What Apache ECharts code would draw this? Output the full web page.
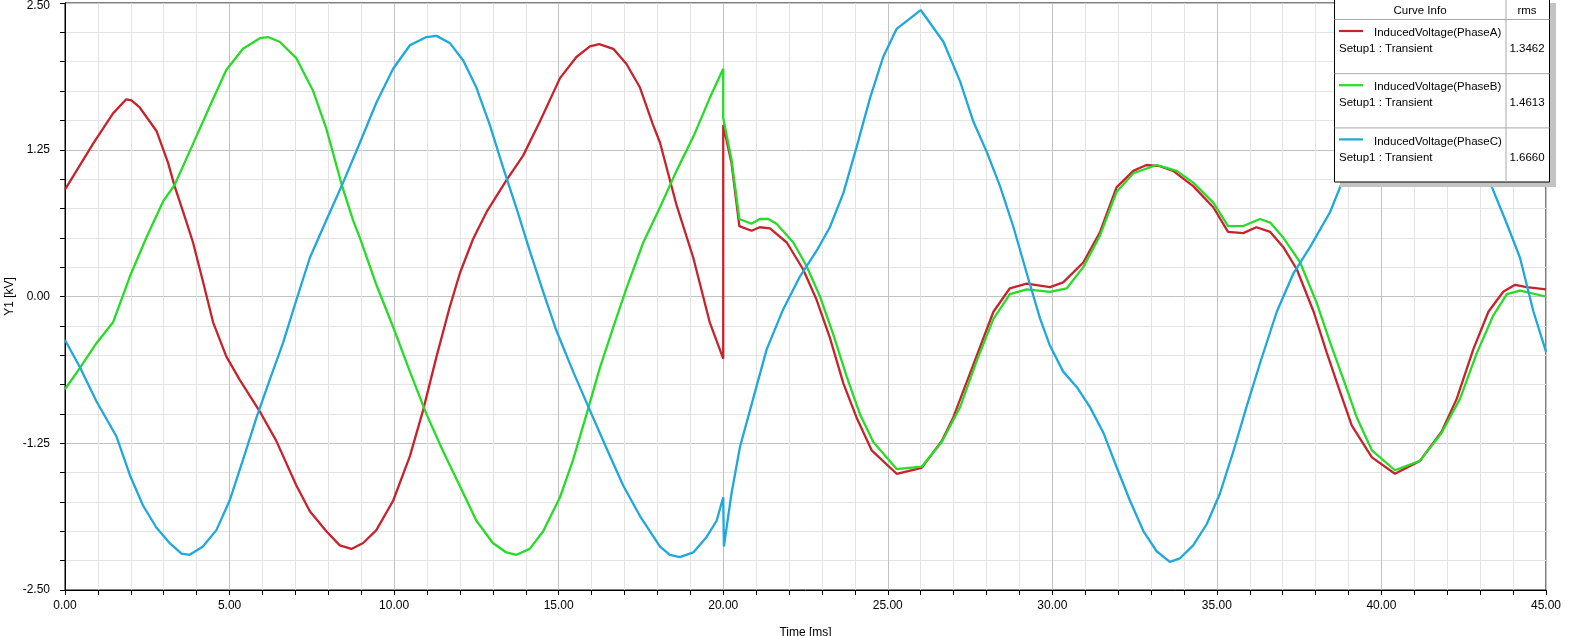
<!DOCTYPE html>
<html><head><meta charset="utf-8">
<script src="https://cdn.jsdelivr.net/npm/echarts@6/dist/echarts.min.js"></script>
<style>html,body{margin:0;padding:0;background:#fff;} #c{width:1569px;height:636px;}</style>
</head><body><div id="c"></div>
<script>
// ---- data (time in ms, voltage in kV) ----
const timeA = [0,0.85,1.46,1.86,2.02,2.27,2.78,3.13,3.33,3.59,3.89,4.19,4.5,4.9,5.31,5.92,6.42,7.03,7.44,7.94,8.35,8.7,9.06,9.46,9.97,10.48,10.88,11.29,11.69,12.0,12.4,12.81,13.41,13.92,14.43,15.04,15.54,15.95,16.23,16.66,17.06,17.47,17.87,18.08,18.58,19.09,19.59,20.0,20.0,20.25,20.49,20.86,21.11,21.42,21.93,22.43,22.84,23.24,23.65,24.05,24.51,25.27,26.03,26.64,26.99,27.6,28.21,28.71,29.22,29.93,30.33,30.94,31.45,31.95,32.46,32.86,33.27,33.67,34.28,34.89,35.34,35.8,36.2,36.62,37.02,37.43,37.94,38.34,38.74,39.1,39.71,40.41,41.17,41.83,42.29,42.79,43.25,43.7,44.06,44.41,45.0];
const voltA = [0.91,1.30,1.56,1.68,1.67,1.61,1.41,1.14,0.94,0.72,0.46,0.13,-0.22,-0.51,-0.71,-0.98,-1.23,-1.61,-1.83,-2.0,-2.12,-2.15,-2.10,-1.99,-1.74,-1.36,-0.97,-0.51,-0.09,0.2,0.49,0.72,0.99,1.2,1.49,1.86,2.04,2.13,2.15,2.11,1.98,1.78,1.46,1.31,0.78,0.33,-0.22,-0.53,1.46,1.14,0.60,0.56,0.59,0.58,0.46,0.23,-0.03,-0.35,-0.74,-1.03,-1.31,-1.51,-1.46,-1.23,-1.03,-0.58,-0.13,0.07,0.11,0.08,0.12,0.29,0.55,0.93,1.07,1.12,1.11,1.07,0.94,0.76,0.55,0.54,0.59,0.55,0.42,0.23,-0.13,-0.48,-0.81,-1.10,-1.37,-1.51,-1.40,-1.15,-0.87,-0.45,-0.13,0.04,0.10,0.08,0.06];

const timeB = [0,0.45,0.95,1.46,1.71,1.97,2.47,2.98,3.33,3.89,4.4,4.9,5.41,5.92,6.17,6.52,7.03,7.54,7.94,8.4,8.75,8.96,9.46,9.97,10.48,10.98,11.49,11.99,12.5,13.0,13.41,13.72,14.12,14.53,15.04,15.44,15.85,16.25,16.66,17.06,17.57,18.08,18.58,19.09,19.59,20.0,20.0,20.25,20.49,20.86,21.11,21.37,21.62,22.13,22.53,22.94,23.34,23.75,24.15,24.56,25.27,26.03,26.64,27.2,27.7,28.21,28.71,29.22,29.93,30.44,30.94,31.45,31.95,32.46,33.17,33.78,34.28,34.89,35.34,35.8,36.31,36.62,37.02,37.53,38.04,38.44,38.85,39.25,39.71,40.41,41.17,41.83,42.39,42.9,43.4,43.81,44.21,45.0];
const voltB = [-0.79,-0.61,-0.40,-0.22,-0.03,0.17,0.50,0.81,0.95,1.30,1.62,1.93,2.11,2.20,2.21,2.17,2.03,1.75,1.43,0.96,0.65,0.50,0.10,-0.26,-0.64,-1.0,-1.32,-1.61,-1.91,-2.10,-2.18,-2.20,-2.15,-2.0,-1.71,-1.39,-1.0,-0.61,-0.26,0.07,0.46,0.76,1.07,1.36,1.69,1.94,1.52,1.17,0.66,0.62,0.66,0.66,0.62,0.46,0.26,0.0,-0.32,-0.68,-1.0,-1.24,-1.47,-1.45,-1.24,-0.94,-0.55,-0.19,0.02,0.06,0.04,0.07,0.25,0.52,0.89,1.05,1.12,1.07,0.97,0.80,0.60,0.60,0.66,0.63,0.50,0.29,-0.06,-0.39,-0.71,-1.03,-1.31,-1.48,-1.40,-1.16,-0.87,-0.48,-0.16,0.02,0.05,0.0];

const timeC = [0,0.45,0.95,1.56,1.97,2.37,2.78,3.18,3.54,3.79,4.19,4.6,5.0,5.41,5.82,6.22,6.63,7.03,7.44,7.94,8.45,8.96,9.46,9.97,10.48,10.98,11.29,11.69,12.1,12.5,12.91,13.31,13.72,14.12,14.53,14.93,15.44,15.95,16.45,16.96,17.47,18.08,18.38,18.68,19.09,19.49,19.8,20.0,20.02,20.25,20.51,20.91,21.32,21.82,22.33,22.84,23.24,23.65,24.05,24.46,24.86,25.27,26.0,26.69,27.2,27.6,28.01,28.41,28.82,29.22,29.63,29.93,30.33,30.74,31.14,31.55,31.95,32.36,32.77,33.17,33.57,33.88,34.28,34.69,35.09,35.5,35.9,36.32,36.82,37.33,37.83,38.44,38.8,39.2,39.6,40.0,40.5,41.0,41.5,42.0,42.5,42.9,43.3,43.81,44.21,44.62,45.0];
const voltC = [-0.37,-0.60,-0.89,-1.19,-1.52,-1.78,-1.97,-2.10,-2.19,-2.20,-2.13,-1.99,-1.74,-1.39,-1.03,-0.71,-0.39,-0.03,0.33,0.65,0.97,1.31,1.65,1.94,2.14,2.21,2.22,2.16,2.01,1.78,1.46,1.10,0.75,0.39,0.04,-0.29,-0.64,-0.97,-1.29,-1.61,-1.87,-2.13,-2.20,-2.22,-2.18,-2.05,-1.91,-1.71,-2.13,-1.68,-1.28,-0.87,-0.45,-0.11,0.17,0.39,0.59,0.88,1.27,1.69,2.04,2.28,2.44,2.17,1.83,1.49,1.23,0.94,0.59,0.20,-0.19,-0.42,-0.64,-0.77,-0.94,-1.16,-1.45,-1.74,-2.0,-2.17,-2.26,-2.23,-2.12,-1.94,-1.68,-1.32,-0.94,-0.56,-0.13,0.20,0.42,0.72,0.97,1.30,1.62,1.92,2.15,2.22,2.15,1.95,1.62,1.28,0.97,0.62,0.33,-0.13,-0.47];

const curveNames = ['InducedVoltage(PhaseA)','InducedVoltage(PhaseB)','InducedVoltage(PhaseC)'];
const setupLabel = 'Setup1 : Transient';
const rmsValues = ['1.3462','1.4613','1.6660'];
const legendHeader = ['Curve Info','rms'];
const xAxisName = 'Time [ms]';
const yAxisName = 'Y1 [kV]';

// ---- styles ----
const colors = ['#c8232c','#26dc26','#1fa8dc'];
const FONT = '"Liberation Sans", Arial, sans-serif';

function zip(t, v){ return t.map((x,i)=>[x, v[i]]); }
const seriesData = [zip(timeA,voltA), zip(timeB,voltB), zip(timeC,voltC)];

// ---- legend table (graphic) ----
const L = {x0:1334.5, x1:1549.5, y0:-0.5, y1:182, div:1506, head:19.5, rowH:54.2};
const g = [];
g.push({type:'rect', z:100, shape:{x:1340, y:3, width:216, height:184}, style:{fill:'#c4c4c4'}});
g.push({type:'rect', z:101, shape:{x:L.x0, y:L.y0, width:L.x1-L.x0, height:L.y1-L.y0}, style:{fill:'#fff', stroke:'#000', lineWidth:1}});
g.push({type:'line', z:102, shape:{x1:L.div, y1:0, x2:L.div, y2:L.y1}, style:{stroke:'#a8a8a8', lineWidth:1}});
g.push({type:'line', z:102, shape:{x1:L.x0, y1:L.head, x2:L.x1, y2:L.head}, style:{stroke:'#a8a8a8', lineWidth:1}});
function txt(s, x, y, align){
  return {type:'text', z:103, style:{text:s, x:x, y:y, font:'11.5px '+FONT, fill:'#000',
    align:align, verticalAlign:'middle', textAlign:align, textVerticalAlign:'middle'}};
}
g.push(txt(legendHeader[0], 1420, 10.5, 'center'));
g.push(txt(legendHeader[1], 1527, 10.5, 'center'));
for (let i=0;i<3;i++){
  const top = L.head + i*L.rowH;
  if (i>0) g.push({type:'line', z:102, shape:{x1:L.x0, y1:top, x2:L.x1, y2:top}, style:{stroke:'#a8a8a8', lineWidth:1}});
  g.push({type:'line', z:102, shape:{x1:1339, y1:top+11.5, x2:1363, y2:top+11.5}, style:{stroke:colors[i], lineWidth:2.2}});
  g.push(txt(curveNames[i], 1374, top+13.5, 'left'));
  g.push(txt(setupLabel, 1339, top+29.5, 'left'));
  g.push(txt(rmsValues[i], 1527, top+29.5, 'center'));
}

const axisCommon = {
  axisLine:{show:true, onZero:false, lineStyle:{color:'#000', width:1}},
  axisTick:{show:true, length:5, lineStyle:{color:'#000', width:1}},
  minorTick:{show:true, splitNumber:5, length:5, lineStyle:{color:'#000', width:1}},
  splitLine:{show:true, lineStyle:{color:'#c2c2c2', width:1}},
  minorSplitLine:{show:true, lineStyle:{color:'#e4e4e4', width:1}},
  nameLocation:'middle',
  nameMoveOverlap:false,
  nameTextStyle:{color:'#000', fontSize:12, fontFamily:FONT}
};

const chart = echarts.init(document.getElementById('c'), null, {renderer:'canvas'});
chart.setOption({
  animation:false,
  backgroundColor:'#fff',
  grid:{left:65, top:3, right:23, bottom:46, containLabel:false, outerBoundsMode:'none',
        show:true, borderColor:'#000', borderWidth:1, backgroundColor:'#fff'},
  xAxis:Object.assign({}, axisCommon, {
    type:'value', min:0, max:45, interval:5, name:xAxisName, nameGap:37,
    axisLabel:{formatter:v=>v.toFixed(2), color:'#000', fontSize:12, fontFamily:FONT, margin:10}
  }),
  yAxis:Object.assign({}, axisCommon, {
    type:'value', min:-2.5, max:2.5, interval:1.25, name:yAxisName, nameGap:49,
    axisLabel:{formatter:v=>(v >= 2.5 ? '{t|' + v.toFixed(2) + '}' : v.toFixed(2)),
      rich:{t:{padding:[6,0,0,0], color:'#000', fontSize:12, fontFamily:FONT}},
      color:'#000', fontSize:12, fontFamily:FONT, margin:15}
  }),
  series:seriesData.map((d,i)=>({
    type:'line', name:curveNames[i], data:d, showSymbol:false, symbol:'none',
    smooth:false,
    lineStyle:{color:colors[i], width:2.3}, itemStyle:{color:colors[i]}, z:2+i
  })),
  graphic:{elements:g}
});
</script>
</body></html>
